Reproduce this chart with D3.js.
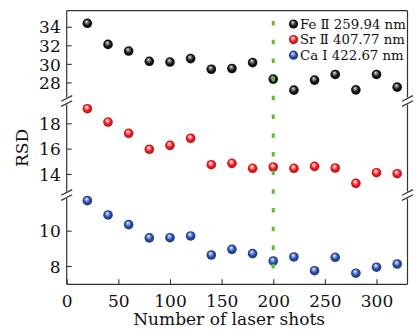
<!DOCTYPE html>
<html><head><meta charset="utf-8">
<script src="https://cdn.jsdelivr.net/npm/d3@7"></script>
<style>body{margin:0;background:#fff}svg{display:block}</style>
</head><body>
<script>
const shots = [20,40,60,80,100,120,140,160,180,200,220,240,260,280,300,320];
const feValues = [34.37,32.1,31.38,30.28,30.2,30.57,29.42,29.5,30.14,28.36,27.17,28.25,28.86,27.2,28.86,27.49];
const srValues = [19.15,18.1,17.21,15.95,16.26,16.82,14.73,14.84,14.45,14.55,14.45,14.6,14.47,13.26,14.1,14.02];
const caValues = [11.7,10.89,10.34,9.59,9.6,9.7,8.62,8.94,8.7,8.28,8.51,7.73,8.49,7.59,7.93,8.11];
const seriesNames = ["Fe \u2161 259.94 nm","Sr \u2161 407.77 nm","Ca \u2160 422.67 nm"];
const feTicks = [28,30,32,34];
const srTicks = [14,16,18];
const caTicks = [8,10];
const xTicks = [0,50,100,150,200,250,300];
const markerShot = 200;

const W=417,H=332;
const L=66.7,R=407.5,T=10.7,B=284.3;
const breaks=[101,195];
const svg=d3.select("body").append("svg").attr("width",W).attr("height",H);
const font="'DejaVu Serif',serif";

const x=d3.scaleLinear().domain([0,330]).range([L,R]);
const panels=[
  {vals:feValues,ticks:feTicks,y:d3.scaleLinear().domain([26,35.73]).range([breaks[0],T]),color:"#111",hi:"#9a9a9a",id:"gFe"},
  {vals:srValues,ticks:srTicks,y:d3.scaleLinear().domain([12.34,19.76]).range([breaks[1],breaks[0]]),color:"#e3171c",hi:"#ffb0b0",id:"gSr"},
  {vals:caValues,ticks:caTicks,y:d3.scaleLinear().domain([6.96,12.02]).range([B,breaks[1]]),color:"#2446a0",hi:"#a8bdf0",id:"gCa"}
];

const defs=svg.append("defs");
panels.forEach(p=>{
  const g=defs.append("radialGradient").attr("id",p.id).attr("cx","50%").attr("cy","50%").attr("r","55%").attr("fx","40%").attr("fy","30%");
  g.append("stop").attr("offset","0%").attr("stop-color","#fff");
  g.append("stop").attr("offset","18%").attr("stop-color",p.hi);
  g.append("stop").attr("offset","60%").attr("stop-color",p.color);
  g.append("stop").attr("offset","100%").attr("stop-color",d3.color(p.color).darker(0.6));
});

// frame
const gap=3.5;
const ax=svg.append("g").attr("stroke","#333").attr("stroke-width",1.2).attr("fill","none");
ax.append("line").attr("x1",L).attr("x2",R).attr("y1",T).attr("y2",T);
ax.append("line").attr("x1",L).attr("x2",R).attr("y1",B).attr("y2",B);
const segs=[[T,breaks[0]-gap],[breaks[0]+gap,breaks[1]-gap],[breaks[1]+gap,B]];
[L,R].forEach(xx=>{
  segs.forEach(s=>ax.append("line").attr("x1",xx).attr("x2",xx).attr("y1",s[0]).attr("y2",s[1]));
  breaks.forEach(b=>{
    [-2.6,2.6].forEach(o=>{
      ax.append("line").attr("x1",xx-5.5).attr("x2",xx+5.5).attr("y1",b+o+2.8).attr("y2",b+o-2.8).attr("stroke","#333");
    });
  });
});

// y ticks
panels.forEach(p=>{
  const g=svg.append("g").attr("transform",`translate(${L},0)`);
  const axis=d3.axisLeft(p.y).tickValues(p.ticks).tickSizeInner(-5).tickSizeOuter(0).tickPadding(6).tickFormat(d3.format("d"));
  g.call(axis);
  g.select(".domain").remove();
  g.selectAll(".tick line").attr("stroke","#333").attr("stroke-width",1.1);
  g.selectAll(".tick text").attr("font-family",font).attr("font-size",17).attr("fill","#111").attr("dy","0.36em");
});

// x axis
const gx=svg.append("g").attr("transform",`translate(0,${B})`);
gx.call(d3.axisBottom(x).tickValues(xTicks).tickSizeInner(-5).tickSizeOuter(0).tickPadding(10.5));
gx.select(".domain").remove();
gx.selectAll(".tick line").attr("stroke","#333").attr("stroke-width",1.1);
gx.selectAll(".tick text").attr("font-family",font).attr("font-size",17).attr("fill","#111");

svg.append("text").attr("x",(L+R)/2-8).attr("y",325).attr("text-anchor","middle")
  .attr("font-family",font).attr("font-size",17).attr("fill","#111").text("Number of laser shots");
svg.append("text").attr("transform","translate(28,148) rotate(-90)").attr("text-anchor","middle")
  .attr("font-family",font).attr("font-size",17).attr("fill","#111").text("RSD");

// points
panels.forEach(p=>{
  svg.append("g").selectAll("circle").data(p.vals).join("circle")
    .attr("cx",(d,i)=>x(shots[i])).attr("cy",d=>p.y(d)).attr("r",4.8)
    .attr("fill",`url(#${p.id})`);
});

// green dashed line
svg.append("line").attr("x1",x(markerShot)).attr("x2",x(markerShot)).attr("y1",21).attr("y2",270)
  .attr("stroke","#62b83c").attr("stroke-width",3).attr("stroke-dasharray","4.5 14.2");

// legend
const lg=svg.append("g");
panels.forEach((p,i)=>{
  const yy=24+i*15.6;
  lg.append("circle").attr("cx",293.5).attr("cy",yy).attr("r",4.6).attr("fill",`url(#${p.id})`);
  lg.append("text").attr("x",300).attr("y",yy).attr("dy","0.36em").attr("font-family",font)
    .attr("font-size",13.3).attr("fill","#111").text(seriesNames[i]);
});
</script>
</body></html>
